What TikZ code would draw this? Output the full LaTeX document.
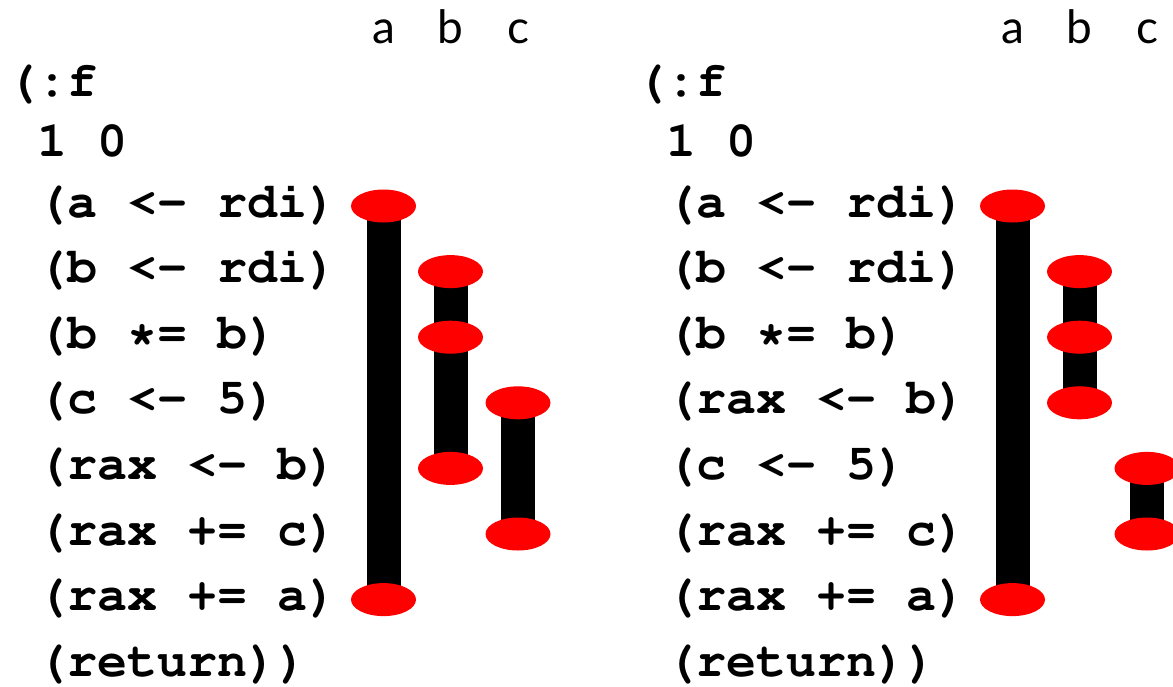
\documentclass[tikz,border=0pt]{standalone}
\usepackage[T1,TU]{fontenc}
\usepackage{fontspec}
\newfontfamily\labfont{Lato}
\newcommand{\courbold}{\fontencoding{T1}\fontfamily{pcr}\fontseries{b}\fontshape{n}\fontsize{50}{60}\selectfont}
\usetikzlibrary{shapes.geometric,backgrounds}
\tikzset{
  code/.style={anchor=base west, inner sep=0pt, font=\courbold},
  lab/.style={anchor=base, inner sep=0pt, font=\fontsize{46}{55}\selectfont\labfont},
  live/.style={ellipse, fill=red, draw=none, minimum width=65pt, minimum height=33pt, inner sep=0pt},
  bar/.style={line width=34pt, black}
}
\begin{document}
\begin{tikzpicture}[x=1pt,y=-1pt]
\useasboundingbox (0,0) rectangle (1173,686);
% ---------- left panel ----------
\node[lab] (La) at (383.5,43) {a};
\node[lab] (Lb) at (450.5,43) {b};
\node[lab] (Lc) at (518,43) {c};
\node[code] (L0) at (7.5,96) {(:f};
\node[code] (L1) at (37.5,156) {1 0};
\node[code] (L2) at (37.5,217) {(a <- rdi)};
\node[code] (L3) at (37.5,282.6) {(b <- rdi)};
\node[code] (L4) at (37.5,348.2) {(b *= b)};
\node[code] (L5) at (37.5,413.8) {(c <- 5)};
\node[code] (L6) at (37.5,479.4) {(rax <- b)};
\node[code] (L7) at (37.5,545) {(rax += c)};
\node[code] (L8) at (37.5,610.6) {(rax += a)};
\node[code] (L9) at (37.5,676.2) {(return))};
\node[live] (La1) at (383.5,206) {};
\node[live] (La2) at (383.5,599.6) {};
\node[live] (Lb1) at (450.5,271.6) {};
\node[live] (Lb2) at (450.5,337.2) {};
\node[live] (Lb3) at (450.5,468.4) {};
\node[live] (Lc1) at (518,402.8) {};
\node[live] (Lc2) at (518,534) {};
% ---------- right panel ----------
\node[lab] (Ra) at (1012.5,43) {a};
\node[lab] (Rb) at (1079.5,43) {b};
\node[lab] (Rc) at (1147,43) {c};
\node[code] (R0) at (636,96) {(:f};
\node[code] (R1) at (666,156) {1 0};
\node[code] (R2) at (666,217) {(a <- rdi)};
\node[code] (R3) at (666,282.6) {(b <- rdi)};
\node[code] (R4) at (666,348.2) {(b *= b)};
\node[code] (R5) at (666,413.8) {(rax <- b)};
\node[code] (R6) at (666,479.4) {(c <- 5)};
\node[code] (R7) at (666,545) {(rax += c)};
\node[code] (R8) at (666,610.6) {(rax += a)};
\node[code] (R9) at (666,676.2) {(return))};
\node[live] (Ra1) at (1012.5,206) {};
\node[live] (Ra2) at (1012.5,599.6) {};
\node[live] (Rb1) at (1079.5,271.6) {};
\node[live] (Rb2) at (1079.5,337.2) {};
\node[live] (Rb3) at (1079.5,402.8) {};
\node[live] (Rc1) at (1147,468.4) {};
\node[live] (Rc2) at (1147,534) {};
% ---------- bars ----------
\begin{scope}[on background layer]
  \draw[bar] (La1.center) -- (La2.center);
  \draw[bar] (Lb1.center) -- (Lb3.center);
  \draw[bar] (Lc1.center) -- (Lc2.center);
  \draw[bar] (Ra1.center) -- (Ra2.center);
  \draw[bar] (Rb1.center) -- (Rb3.center);
  \draw[bar] (Rc1.center) -- (Rc2.center);
\end{scope}
\end{tikzpicture}
\end{document}
